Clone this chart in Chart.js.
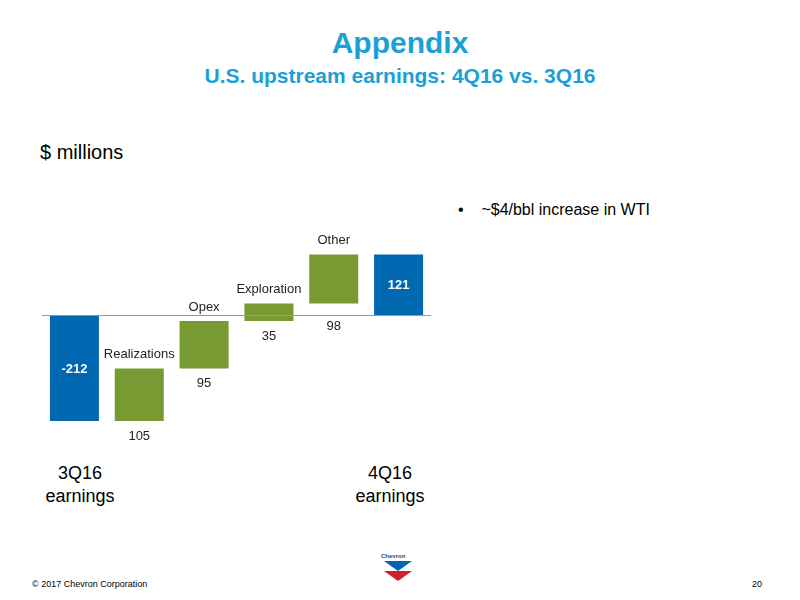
<!DOCTYPE html>
<html lang="en">
<head>
<meta charset="UTF-8" />
<title>U.S. upstream earnings</title>
<script src="https://cdn.jsdelivr.net/npm/chart.js"></script>
<style>
  body { margin:0; width:800px; height:600px; background:#fff; font-family:"Liberation Sans", Arial, sans-serif; position:relative; overflow:hidden; }
  .t { position:absolute; white-space:nowrap; }
  #wrap { position:absolute; left:42px; top:235px; width:389px; height:210px; }
</style>
</head>
<body>
<div class="t" style="left:0;width:800px;text-align:center;top:26px;font-size:30px;font-weight:bold;color:#1a9fd9;">Appendix</div>
<div class="t" style="left:0;width:800px;text-align:center;top:64px;font-size:21px;font-weight:bold;color:#1a9fd9;">U.S. upstream earnings: 4Q16 vs. 3Q16</div>
<div class="t" style="left:40px;top:141px;font-size:20px;">$ millions</div>
<div class="t" style="left:458px;top:201px;font-size:16px;">•&nbsp;&nbsp;&nbsp;&nbsp;~$4/bbl increase in WTI</div>
<div class="t" style="left:32px;width:96px;text-align:center;top:462px;font-size:18px;line-height:23px;">3Q16<br>earnings</div>
<div class="t" style="left:342px;width:96px;text-align:center;top:462px;font-size:18px;line-height:23px;">4Q16<br>earnings</div>
<div class="t" style="left:32px;top:579px;font-size:9px;">© 2017 Chevron Corporation</div>
<div class="t" style="left:752px;top:579px;font-size:9px;">20</div>
<div class="t" style="left:381px;top:553px;font-size:6px;color:#0a4a8c;font-weight:bold;">Chevron</div>
<div class="t" style="left:384px;top:561px;width:0;height:0;border-left:14px solid transparent;border-right:14px solid transparent;border-top:10px solid #0066b3;"></div>
<div class="t" style="left:384px;top:571px;width:0;height:0;border-left:14px solid transparent;border-right:14px solid transparent;border-top:10px solid #d0202e;"></div>
<div id="wrap"><canvas id="c"></canvas></div>
<script>
const categories = ["3Q16 earnings", "Realizations", "Opex", "Exploration", "Other", "4Q16 earnings"];
const changes = [-212, 105, 95, 35, 98, 121];
const isTotal = [true, false, false, false, false, true];
const valueLabels = ["-212", "105", "95", "35", "98", "121"];

// floating ranges for the waterfall
const ranges = [];
let running = 0;
changes.forEach((v, i) => {
  if (isTotal[i]) { ranges.push([0, v]); if (i === 0) running = v; }
  else { ranges.push([running, running + v]); running += v; }
});

const BLUE = "#0067b1", GREEN = "#779a32";

const labelPlugin = {
  id: "wfLabels",
  afterDatasetsDraw(chart) {
    const { ctx, chartArea } = chart;
    const y = chart.scales.y;
    const meta = chart.getDatasetMeta(0);
    // zero line
    ctx.save();
    ctx.strokeStyle = "#999";
    ctx.lineWidth = 1;
    ctx.beginPath();
    ctx.moveTo(chartArea.left, Math.round(y.getPixelForValue(0)) + 0.5);
    ctx.lineTo(chartArea.right, Math.round(y.getPixelForValue(0)) + 0.5);
    ctx.stroke();
    ctx.textAlign = "center";
    ctx.textBaseline = "middle";
    meta.data.forEach((bar, i) => {
      const [a, b] = ranges[i];
      const top = y.getPixelForValue(Math.max(a, b));
      const bot = y.getPixelForValue(Math.min(a, b));
      if (isTotal[i]) {
        ctx.fillStyle = "#fff";
        ctx.font = "bold 13px 'Liberation Sans', Arial";
        ctx.fillText(valueLabels[i], bar.x, (top + bot) / 2 + 1);
      } else {
        ctx.fillStyle = "#222";
        ctx.font = "13px 'Liberation Sans', Arial";
        ctx.fillText(categories[i], bar.x, top - 14);
        const vy = Math.max(bot + 15, y.getPixelForValue(0) + 11);
        ctx.fillText(valueLabels[i], bar.x, vy);
      }
    });
    ctx.restore();
  }
};

new Chart(document.getElementById("c"), {
  type: "bar",
  data: {
    labels: categories,
    datasets: [{
      data: ranges,
      backgroundColor: isTotal.map(t => t ? BLUE : GREEN),
      borderWidth: 0,
      barPercentage: 0.756,
      categoryPercentage: 1
    }]
  },
  options: {
    responsive: true,
    maintainAspectRatio: false,
    animation: false,
    layout: { padding: 0 },
    plugins: { legend: { display: false }, tooltip: { enabled: false } },
    scales: {
      x: { display: false },
      y: { display: false, min: -260, max: 160 }
    }
  },
  plugins: [labelPlugin]
});
</script>
</body>
</html>
